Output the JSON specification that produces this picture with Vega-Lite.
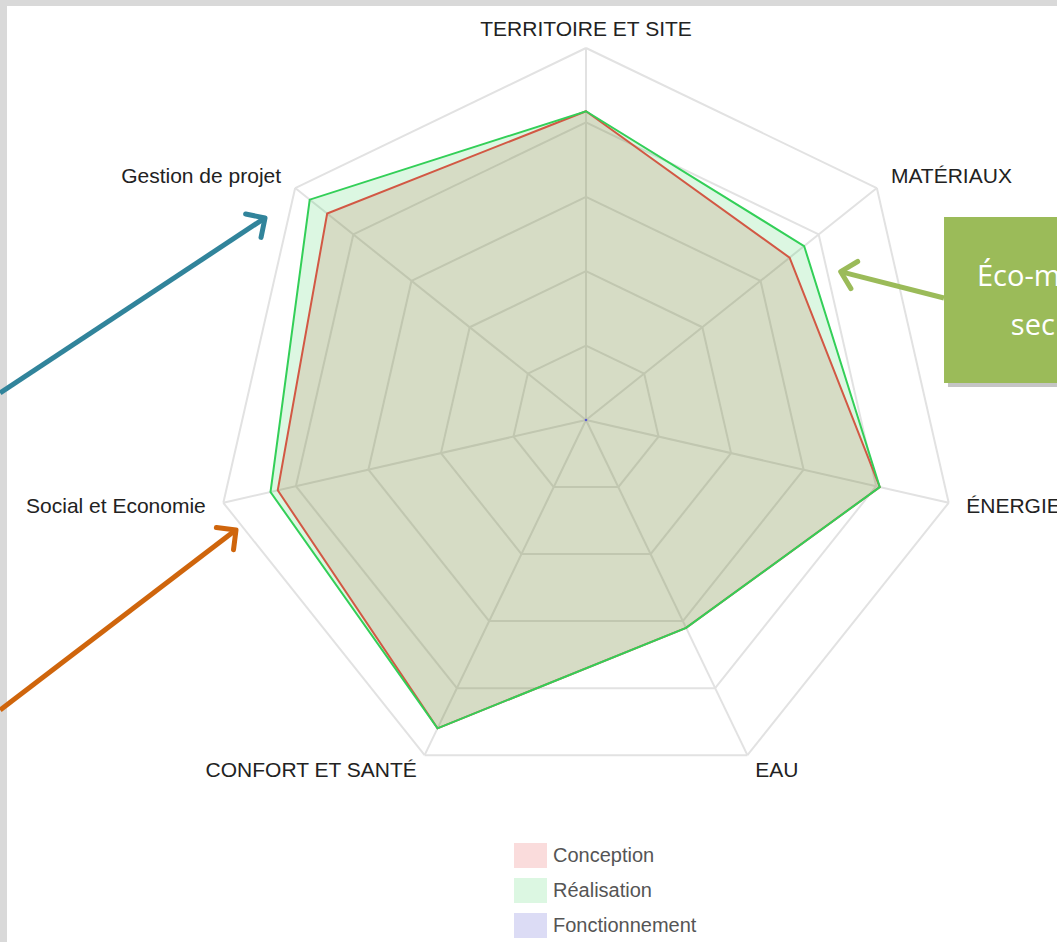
{
"$schema":"https://vega.github.io/schema/vega-lite/v6.json",
"width":1050,"height":936,
"autosize":{"type":"none"},
"padding":{"left":7,"top":6,"right":0,"bottom":0},
"background":"#d9d9d9",
"config":{"view":{"stroke":null,"fill":"#ffffff"}},
"datasets":{
 "axes":[
  {"idx":0,"name":"TERRITOIRE ET SITE","levels":[20,40,60,80,100]},
  {"idx":1,"name":"MATÉRIAUX","levels":[20,40,60,80,100]},
  {"idx":2,"name":"ÉNERGIE","levels":[20,40,60,80,100]},
  {"idx":3,"name":"EAU","levels":[20,40,60,80,100]},
  {"idx":4,"name":"CONFORT ET SANTÉ","levels":[20,40,60,80,100]},
  {"idx":5,"name":"Social et Economie","levels":[20,40,60,80,100]},
  {"idx":6,"name":"Gestion de projet","levels":[20,40,60,80,100]}
 ],
 "scores":[
  {"serie":"Conception","idx":0,"v":83},
  {"serie":"Conception","idx":1,"v":70},
  {"serie":"Conception","idx":2,"v":81},
  {"serie":"Conception","idx":3,"v":62},
  {"serie":"Conception","idx":4,"v":92},
  {"serie":"Conception","idx":5,"v":85},
  {"serie":"Conception","idx":6,"v":89},
  {"serie":"Réalisation","idx":0,"v":83},
  {"serie":"Réalisation","idx":1,"v":75},
  {"serie":"Réalisation","idx":2,"v":81},
  {"serie":"Réalisation","idx":3,"v":62},
  {"serie":"Réalisation","idx":4,"v":92},
  {"serie":"Réalisation","idx":5,"v":87},
  {"serie":"Réalisation","idx":6,"v":95},
  {"serie":"Fonctionnement","idx":0,"v":0},
  {"serie":"Fonctionnement","idx":1,"v":0},
  {"serie":"Fonctionnement","idx":2,"v":0},
  {"serie":"Fonctionnement","idx":3,"v":0},
  {"serie":"Fonctionnement","idx":4,"v":0},
  {"serie":"Fonctionnement","idx":5,"v":0},
  {"serie":"Fonctionnement","idx":6,"v":0}
 ]
},
"layer":[
 {"data":{"name":"axes"},
  "transform":[{"flatten":["levels"],"as":["lev"]},
   {"calculate":"datum.idx*2*PI/7","as":"a1"},
   {"calculate":"(datum.idx+1)*2*PI/7","as":"a2"},
   {"calculate":"datum.lev*sin(datum.a1)","as":"x"},
   {"calculate":"datum.lev*cos(datum.a1)","as":"y"},
   {"calculate":"datum.lev*sin(datum.a2)","as":"xe"},
   {"calculate":"datum.lev*cos(datum.a2)","as":"ye"}],
  "mark":{"type":"rule","stroke":"#e2e2e2","strokeWidth":2},
  "encoding":{
   "x":{"field":"x","type":"quantitative","scale":{"domain":[-155.65,126.61],"nice":false,"zero":false},"axis":null},
   "y":{"field":"y","type":"quantitative","scale":{"domain":[-140.32,111.29],"nice":false,"zero":false},"axis":null},
   "x2":{"field":"xe"},"y2":{"field":"ye"}}},
 {"data":{"name":"axes"},
  "transform":[{"calculate":"datum.idx*2*PI/7","as":"a"},
   {"calculate":"0","as":"x"},
   {"calculate":"0","as":"y"},
   {"calculate":"100*sin(datum.a)","as":"sx"},
   {"calculate":"100*cos(datum.a)","as":"sy"}],
  "mark":{"type":"rule","stroke":"#e2e2e2","strokeWidth":2},
  "encoding":{
   "x":{"field":"x","type":"quantitative","scale":{"domain":[-155.65,126.61],"nice":false,"zero":false},"axis":null},
   "y":{"field":"y","type":"quantitative","scale":{"domain":[-140.32,111.29],"nice":false,"zero":false},"axis":null},
   "x2":{"field":"sx"},"y2":{"field":"sy"}}},
 {"data":{"name":"scores"},
  "transform":[{"filter":"datum.serie==='Réalisation'"},
   {"calculate":"datum.idx*2*PI/7","as":"a"},
   {"calculate":"datum.v*sin(datum.a)","as":"x"},
   {"calculate":"datum.v*cos(datum.a)","as":"y"}],
  "mark":{"type":"line","interpolate":"linear-closed","strokeWidth":0,"strokeOpacity":0,"fill":"#16ca3e","fillOpacity":0.15},
  "encoding":{
   "x":{"field":"x","type":"quantitative","scale":{"domain":[-155.65,126.61],"nice":false,"zero":false},"axis":null},
   "y":{"field":"y","type":"quantitative","scale":{"domain":[-140.32,111.29],"nice":false,"zero":false},"axis":null},
   "order":{"field":"idx","type":"quantitative"}}},
 {"data":{"name":"scores"},
  "transform":[{"filter":"datum.serie==='Conception'"},
   {"calculate":"datum.idx*2*PI/7","as":"a"},
   {"calculate":"datum.v*sin(datum.a)","as":"x"},
   {"calculate":"datum.v*cos(datum.a)","as":"y"}],
  "mark":{"type":"line","interpolate":"linear-closed","strokeWidth":0,"strokeOpacity":0,"fill":"#b44321","fillOpacity":0.15},
  "encoding":{
   "x":{"field":"x","type":"quantitative","scale":{"domain":[-155.65,126.61],"nice":false,"zero":false},"axis":null},
   "y":{"field":"y","type":"quantitative","scale":{"domain":[-140.32,111.29],"nice":false,"zero":false},"axis":null},
   "order":{"field":"idx","type":"quantitative"}}},
 {"data":{"name":"scores"},
  "transform":[{"filter":"datum.serie==='Fonctionnement'"},
   {"calculate":"datum.idx*2*PI/7","as":"a"},
   {"calculate":"datum.v*sin(datum.a)","as":"x"},
   {"calculate":"datum.v*cos(datum.a)","as":"y"}],
  "mark":{"type":"line","interpolate":"linear-closed","strokeWidth":0,"strokeOpacity":0,"fillOpacity":0.15},
  "encoding":{
   "x":{"field":"x","type":"quantitative","scale":{"domain":[-155.65,126.61],"nice":false,"zero":false},"axis":null},
   "y":{"field":"y","type":"quantitative","scale":{"domain":[-140.32,111.29],"nice":false,"zero":false},"axis":null},
   "order":{"field":"idx","type":"quantitative"},
   "fill":{"field":"serie","type":"nominal","scale":{"domain":["Conception","Réalisation","Fonctionnement"],"range":["#fadcdc","#dcf7e2","#dcdcf5"]},
     "legend":{"title":null,"orient":"none","legendX":507,"legendY":833,"symbolType":"M-1,-0.76H1V0.76H-1Z","symbolSize":1089,"symbolOpacity":1,"symbolStrokeWidth":0,"labelFont":"Liberation Sans","labelFontSize":20,"labelColor":"#555555","labelOffset":6,"rowPadding":5,"padding":0}}}},
 {"data":{"name":"scores"},
  "transform":[{"filter":"datum.serie==='Conception'"},
   {"calculate":"datum.idx*2*PI/7","as":"a"},
   {"calculate":"datum.v*sin(datum.a)","as":"x"},
   {"calculate":"datum.v*cos(datum.a)","as":"y"}],
  "mark":{"type":"line","interpolate":"linear-closed","strokeWidth":2,"stroke":"#d25844"},
  "encoding":{
   "x":{"field":"x","type":"quantitative","scale":{"domain":[-155.65,126.61],"nice":false,"zero":false},"axis":null},
   "y":{"field":"y","type":"quantitative","scale":{"domain":[-140.32,111.29],"nice":false,"zero":false},"axis":null},
   "order":{"field":"idx","type":"quantitative"}}},
 {"data":{"name":"scores"},
  "transform":[{"filter":"datum.serie==='Réalisation'"},
   {"calculate":"datum.idx*2*PI/7","as":"a"},
   {"calculate":"datum.v*sin(datum.a)","as":"x"},
   {"calculate":"datum.v*cos(datum.a)","as":"y"}],
  "mark":{"type":"line","interpolate":"linear-closed","strokeWidth":2,"stroke":"#33cf58"},
  "encoding":{
   "x":{"field":"x","type":"quantitative","scale":{"domain":[-155.65,126.61],"nice":false,"zero":false},"axis":null},
   "y":{"field":"y","type":"quantitative","scale":{"domain":[-140.32,111.29],"nice":false,"zero":false},"axis":null},
   "order":{"field":"idx","type":"quantitative"}}},
 {"data":{"name":"scores"},
  "transform":[{"filter":"datum.serie==='Fonctionnement' && datum.idx===0"},
   {"calculate":"datum.v","as":"x"},
   {"calculate":"datum.v","as":"y"}],
  "mark":{"type":"circle","size":7,"color":"#5a5ad0","opacity":1},
  "encoding":{
   "x":{"field":"x","type":"quantitative","scale":{"domain":[-155.65,126.61],"nice":false,"zero":false},"axis":null},
   "y":{"field":"y","type":"quantitative","scale":{"domain":[-140.32,111.29],"nice":false,"zero":false},"axis":null}}},
 {"data":{"name":"axes"},
  "transform":[{"filter":"datum.idx===0"},
   {"calculate":"datum.idx*2*PI/7","as":"a"},
   {"calculate":"104.84*sin(datum.a)","as":"x"},
   {"calculate":"104.84*cos(datum.a)","as":"y"}],
  "mark":{"type":"text","align":"center","baseline":"middle","font":"Liberation Sans","fontSize":21,"fill":"#222222"},
  "encoding":{
   "x":{"field":"x","type":"quantitative","scale":{"domain":[-155.65,126.61],"nice":false,"zero":false},"axis":null},
   "y":{"field":"y","type":"quantitative","scale":{"domain":[-140.32,111.29],"nice":false,"zero":false},"axis":null},
   "text":{"field":"name"}}},
 {"data":{"name":"axes"},
  "transform":[{"filter":"datum.idx>=1 && datum.idx<=3"},
   {"calculate":"datum.idx*2*PI/7","as":"a"},
   {"calculate":"104.84*sin(datum.a)","as":"x"},
   {"calculate":"104.84*cos(datum.a)","as":"y"}],
  "mark":{"type":"text","align":"left","baseline":"middle","font":"Liberation Sans","fontSize":21,"fill":"#222222"},
  "encoding":{
   "x":{"field":"x","type":"quantitative","scale":{"domain":[-155.65,126.61],"nice":false,"zero":false},"axis":null},
   "y":{"field":"y","type":"quantitative","scale":{"domain":[-140.32,111.29],"nice":false,"zero":false},"axis":null},
   "text":{"field":"name"}}},
 {"data":{"name":"axes"},
  "transform":[{"filter":"datum.idx>=4"},
   {"calculate":"datum.idx*2*PI/7","as":"a"},
   {"calculate":"104.84*sin(datum.a)","as":"x"},
   {"calculate":"104.84*cos(datum.a)","as":"y"}],
  "mark":{"type":"text","align":"right","baseline":"middle","font":"Liberation Sans","fontSize":21,"fill":"#222222"},
  "encoding":{
   "x":{"field":"x","type":"quantitative","scale":{"domain":[-155.65,126.61],"nice":false,"zero":false},"axis":null},
   "y":{"field":"y","type":"quantitative","scale":{"domain":[-140.32,111.29],"nice":false,"zero":false},"axis":null},
   "text":{"field":"name"}}},
 {"data":{"values":[{}]},
  "mark":{"type":"rule","stroke":"#31849b","strokeWidth":5},
  "encoding":{"x":{"datum":-157.5,"type":"quantitative"},"y":{"datum":7.26,"type":"quantitative"},"x2":{"datum":-86.8,"type":"quantitative"},"y2":{"datum":54.0,"type":"quantitative"}}},
 {"data":{"values":[{}]},
  "mark":{"type":"point","shape":"M-1,-1L0,0L-1,1","filled":false,"stroke":"#31849b","strokeWidth":5,"size":784,"angle":-33.4,"opacity":1,"strokeCap":"round","strokeJoin":"round"},
  "encoding":{"x":{"datum":-86.29,"type":"quantitative"},"y":{"datum":54.3,"type":"quantitative"}}},
 {"data":{"values":[{}]},
  "mark":{"type":"rule","stroke":"#cf650c","strokeWidth":5},
  "encoding":{"x":{"datum":-157.5,"type":"quantitative"},"y":{"datum":-77.96,"type":"quantitative"},"x2":{"datum":-94.6,"type":"quantitative"},"y2":{"datum":-29.9,"type":"quantitative"}}},
 {"data":{"values":[{}]},
  "mark":{"type":"point","shape":"M-1,-1L0,0L-1,1","filled":false,"stroke":"#cf650c","strokeWidth":5,"size":784,"angle":-37.8,"opacity":1,"strokeCap":"round","strokeJoin":"round"},
  "encoding":{"x":{"datum":-94.09,"type":"quantitative"},"y":{"datum":-29.57,"type":"quantitative"}}},
 {"data":{"values":[{}]},
  "mark":{"type":"rect","fill":"#7f7f7f","opacity":0.45},
  "encoding":{"x":{"datum":97.3,"type":"quantitative"},"x2":{"datum":130,"type":"quantitative"},"y":{"datum":53.5,"type":"quantitative"},"y2":{"datum":8.9,"type":"quantitative"}}},
 {"data":{"values":[{}]},
  "mark":{"type":"rect","fill":"#9bbb59"},
  "encoding":{"x":{"datum":96.24,"type":"quantitative"},"x2":{"datum":130,"type":"quantitative"},"y":{"datum":54.57,"type":"quantitative"},"y2":{"datum":9.95,"type":"quantitative"}}},
 {"data":{"values":[{}]},
  "mark":{"type":"rule","stroke":"#9bbb59","strokeWidth":5},
  "encoding":{"x":{"datum":96.24,"type":"quantitative"},"y":{"datum":32.8,"type":"quantitative"},"x2":{"datum":69.2,"type":"quantitative"},"y2":{"datum":39.7,"type":"quantitative"}}},
 {"data":{"values":[{}]},
  "mark":{"type":"point","shape":"M-1,-1L0,0L-1,1","filled":false,"stroke":"#9bbb59","strokeWidth":5,"size":784,"angle":194,"opacity":1,"strokeCap":"round","strokeJoin":"round"},
  "encoding":{"x":{"datum":68.47,"type":"quantitative"},"y":{"datum":39.87,"type":"quantitative"}}},
 {"data":{"values":[{}]},
  "mark":{"type":"text","text":"Éco-m","align":"left","baseline":"middle","font":"Open Sans","fontSize":29,"fill":"#ffffff"},
  "encoding":{"x":{"datum":105.1,"type":"quantitative"},"y":{"datum":38.4,"type":"quantitative"}}},
 {"data":{"values":[{}]},
  "mark":{"type":"text","text":"sec","align":"left","baseline":"middle","font":"Open Sans","fontSize":29,"fill":"#ffffff"},
  "encoding":{"x":{"datum":114.2,"type":"quantitative"},"y":{"datum":25.3,"type":"quantitative"}}}
]
}
